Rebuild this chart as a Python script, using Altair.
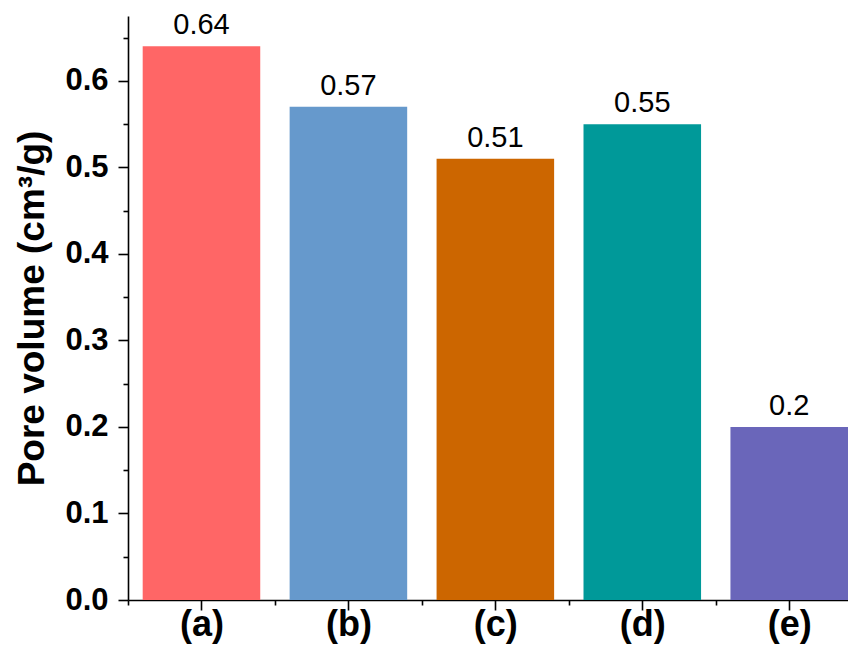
import json
import altair as alt
import pandas as pd

categories = ["(a)", "(b)", "(c)", "(d)", "(e)"]
positions = [1, 2, 3, 4, 5]
values = [0.64, 0.57, 0.51, 0.55, 0.20]
value_labels = ["0.64", "0.57", "0.51", "0.55", "0.2"]
colors = ["#FF6666", "#6699CC", "#CC6600", "#009999", "#6A66BA"]
y_ticks = [0.0, 0.05, 0.1, 0.15, 0.2, 0.25, 0.3, 0.35, 0.4, 0.45, 0.5, 0.55, 0.6, 0.65]
x_ticks = [0.5, 1, 1.5, 2, 2.5, 3, 3.5, 4, 4.5, 5]

FONT = "Liberation Sans"

df = pd.DataFrame({
    "cat": categories,
    "pos": positions,
    "value": values,
    "label": value_labels,
})

base = alt.Chart(df).transform_calculate(
    x0="datum.pos - 0.4", x1="datum.pos + 0.4"
)

x_scale = alt.Scale(domain=[0.5, 5.4], nice=False, zero=False)
y_scale = alt.Scale(domain=[0, 0.675], nice=False, zero=True)

x_axis = alt.Axis(
    values=x_ticks,
    title=None,
    grid=False,
    labelExpr="datum.value % 1 == 0 ? " + json.dumps(categories) + "[round(datum.value) - 1] : ''",
    labelFont=FONT,
    labelFontSize=36,
    labelFontWeight="bold",
    labelColor="black",
    labelPadding=-3,
    labelFlush=False,
    labelOverlap=False,
    tickSize={"condition": {"test": "datum.value % 1 == 0", "value": 10}, "value": 5},
    tickColor="black",
    tickWidth=1.6,
    domainColor="black",
    domainWidth=1.6,
)

y_axis = alt.Axis(
    values=y_ticks,
    title="Pore volume (cm³/g)",
    titleFont=FONT,
    titleFontSize=37,
    titleFontWeight="bold",
    titleColor="black",
    titlePadding=13,
    grid=False,
    labelExpr="round(datum.value * 20) % 2 == 0 ? format(datum.value, '.1f') : ''",
    labelFont=FONT,
    labelFontSize=31,
    labelFontWeight="bold",
    labelColor="black",
    labelPadding=10,
    labelFlush=False,
    labelOverlap=False,
    tickSize={"condition": {"test": "round(datum.value * 20) % 2 == 0", "value": 10}, "value": 5},
    tickColor="black",
    tickWidth=1.6,
    domainColor="black",
    domainWidth=1.6,
)

bars = base.mark_bar().encode(
    x=alt.X("x0:Q", scale=x_scale, axis=x_axis),
    x2="x1:Q",
    y=alt.Y("value:Q", scale=y_scale, axis=y_axis),
    y2=alt.datum(0),
    color=alt.Color("cat:N", scale=alt.Scale(domain=categories, range=colors), legend=None),
)

text = alt.Chart(df).mark_text(
    baseline="bottom", dy=-6, fontSize=29, font=FONT, color="black"
).encode(
    x=alt.X("pos:Q", scale=x_scale),
    y=alt.Y("value:Q", scale=y_scale),
    text="label:N",
)

chart = alt.layer(bars, text).properties(
    width=720,
    height=584,
    autosize=alt.AutoSizeParams(type="none"),
    padding={"left": 120, "top": 8, "right": 0, "bottom": 44},
).configure_view(stroke=None)

chart.save("out.html", embed_options={"renderer": "svg", "actions": False})
